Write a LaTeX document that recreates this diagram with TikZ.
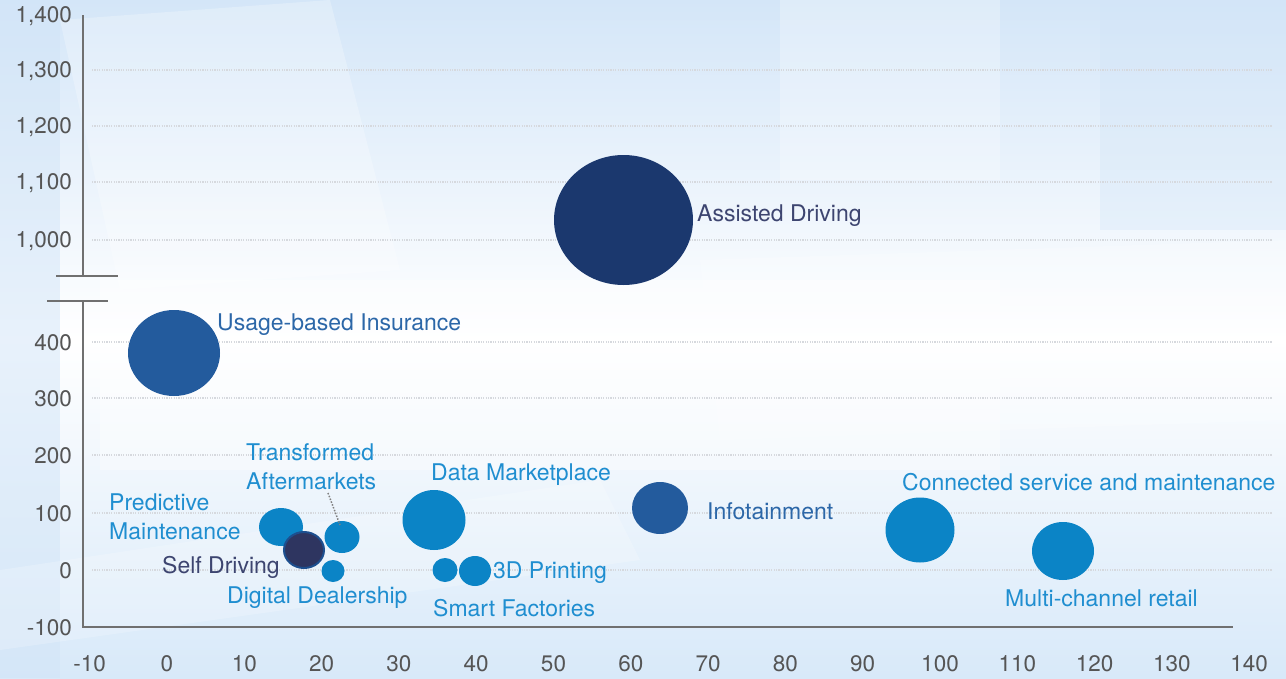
\documentclass[tikz,border=0pt]{standalone}
\usepackage{fontspec}
\setmainfont{TeX Gyre Heros}
\usetikzlibrary{shapes.geometric,calc}
\definecolor{bgblue}{HTML}{D2E5F8}
\definecolor{bgtop}{HTML}{D4E6F8}
\definecolor{bgbot}{HTML}{D8E9F9}
\definecolor{bubblue}{HTML}{0B84C6}
\definecolor{midblue}{HTML}{235B9D}
\definecolor{navy}{HTML}{1B386E}
\definecolor{sdfill}{HTML}{2E3560}
\definecolor{sdline}{HTML}{1D4F8F}
\definecolor{lblblue}{HTML}{1F8ED0}
\definecolor{lblmid}{HTML}{2C67A8}
\definecolor{lbldark}{HTML}{3D4570}
\definecolor{axisgray}{HTML}{707070}
\definecolor{ticktext}{HTML}{555555}
\definecolor{gridcol}{HTML}{D6D9DE}
\tikzset{
  bubble/.style={ellipse, inner sep=0pt, draw=none},
  lbl/.style={anchor=west, inner sep=0pt, font=\fontsize{23}{29}\selectfont, align=left},
  ytick/.style={anchor=east, inner sep=0pt, text=ticktext, font=\fontsize{22.5}{26}\selectfont},
  xtick/.style={anchor=center, inner sep=0pt, text=ticktext, font=\fontsize{22.5}{26}\selectfont},
  axisline/.style={draw=axisgray, line width=2pt},
  gridline/.style={draw=gridcol, line width=1.5pt, dash pattern=on 1.2pt off 1.2pt},
  leader/.style={draw=gray, line width=1.5pt, dash pattern=on 1.5pt off 1.5pt}
}
\begin{document}
\begin{tikzpicture}[x=1pt,y=-1pt]
\useasboundingbox (0,0) rectangle (1286,678);
% background
\shade[top color=bgtop, bottom color=bgbot, middle color=white] (0,0) rectangle (1286,678);
\fill[bgblue, opacity=0.5] (0,0) rectangle (60,678);
\fill[white, opacity=0.25] (60,20) -- (330,0) -- (400,270) -- (120,290) -- cycle;
\fill[white, opacity=0.25] (780,0) -- (1000,0) -- (1000,180) -- (780,180) -- cycle;
\fill[white, opacity=0.35] (100,280) rectangle (1000,470);
\fill[white, opacity=0.2] (700,260) -- (1286,240) -- (1286,420) -- (720,440) -- cycle;
\fill[white, opacity=0.2] (0,570) -- (600,480) -- (640,560) -- (0,650) -- cycle;
\fill[bgblue, opacity=0.35] (1100,0) rectangle (1286,230);

% grid lines
\foreach \y in {70,126,182,240,342,398,455,513,570}
  \draw[gridline] (92,\y) -- (1272,\y);

% axes
\coordinate (ytop) at (83,15);
\coordinate (ybrk1) at (83,276);
\coordinate (ybrk2) at (83,301);
\coordinate (origin) at (83,627);
\coordinate (xend) at (1233,627);
\coordinate (b1l) at (56,276);
\coordinate (b1r) at (118,276);
\coordinate (b2l) at (47,301);
\coordinate (b2r) at (108,301);
\draw[axisline] (ytop) -- (ybrk1);
\draw[axisline] (b1l) -- (b1r);
\draw[axisline] (b2l) -- (b2r);
\draw[axisline] (ybrk2) -- (origin) -- (xend);

% y tick labels
\node[ytick] (y1400) at (72,16) {1,400};
\node[ytick] (y1300) at (72,71) {1,300};
\node[ytick] (y1200) at (72,127) {1,200};
\node[ytick] (y1100) at (72,183) {1,100};
\node[ytick] (y1000) at (72,241) {1,000};
\node[ytick] (y400) at (72,343) {400};
\node[ytick] (y300) at (72,399) {300};
\node[ytick] (y200) at (72,456) {200};
\node[ytick] (y100) at (72,514) {100};
\node[ytick] (y0) at (72,571) {0};
\node[ytick] (ym100) at (72,628) {-100};

% x tick labels
\foreach \v [count=\i] in {-10,0,10,20,30,40,50,60,70,80,90,100,110,120,130,140}
  \node[xtick] (x\i) at ({167+7.73*\v},664) {\v};

% bubbles
\node[bubble, fill=navy, minimum width=139pt, minimum height=130pt] (ad) at (623.5,220) {};
\node[bubble, fill=midblue, minimum width=92pt, minimum height=86pt] (ubi) at (174,353) {};
\node[bubble, fill=bubblue, minimum width=44pt, minimum height=38pt] (pm) at (281,527) {};
\node[bubble, fill=bubblue, minimum width=35pt, minimum height=32pt] (tab) at (342,537) {};
\node[bubble, fill=sdfill, draw=sdline, line width=2pt, minimum width=40pt, minimum height=36pt] (sd) at (304,550) {};
\node[bubble, fill=bubblue, minimum width=23pt, minimum height=22pt] (dd) at (333,571) {};
\node[bubble, fill=bubblue, minimum width=63pt, minimum height=60pt] (dm) at (434,520) {};
\node[bubble, fill=bubblue, minimum width=25pt, minimum height=24pt] (sf) at (445,570) {};
\node[bubble, fill=bubblue, minimum width=32pt, minimum height=30pt] (tdp) at (475,571) {};
\node[bubble, fill=midblue, minimum width=56pt, minimum height=52pt] (inf) at (660,508) {};
\node[bubble, fill=bubblue, minimum width=69pt, minimum height=65pt] (cs) at (920,530) {};
\node[bubble, fill=bubblue, minimum width=62pt, minimum height=58pt] (mcr) at (1063,551) {};

% labels
\node[lbl, text=lbldark] (adl) at (697,216) {Assisted Driving};
\node[lbl, text=lblmid] (ubil) at (217,325) {Usage-based Insurance};
\node[lbl, text=lblblue] (pml) at (109,517) {Predictive\\Maintenance};
\node[lbl, text=lblblue] (tal) at (246,467) {Transformed\\Aftermarkets};
\node[lbl, text=lbldark] (sdl) at (162,567) {Self Driving};
\node[lbl, text=lblblue] (ddl) at (227,598) {Digital Dealership};
\node[lbl, text=lblblue] (dml) at (431,475) {Data Marketplace};
\node[lbl, text=lblblue] (tdpl) at (493,573) {3D Printing};
\node[lbl, text=lblblue] (sfl) at (433,608) {Smart Factories};
\node[lbl, text=lblmid] (infl) at (707,511) {Infotainment};
\node[lbl, text=lblblue] (csl) at (902,482) {Connected service and maintenance};
\node[lbl, text=lblblue] (mcrl) at (1005,598) {Multi-channel retail};

% leader
\coordinate (leadstart) at (328,493);
\draw[leader] (leadstart) -- ($(tab.center)+(-2,-12)$);
\end{tikzpicture}
\end{document}
